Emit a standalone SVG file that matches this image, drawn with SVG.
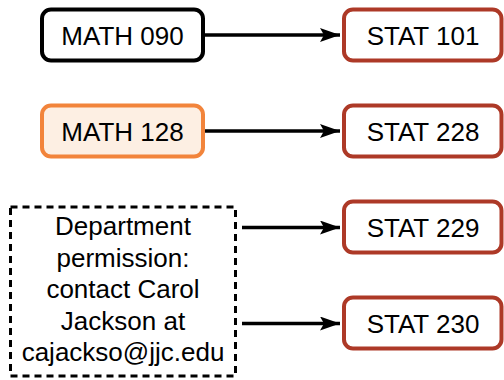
<svg xmlns="http://www.w3.org/2000/svg" width="504" height="380" viewBox="0 0 504 380">
<defs>
<style>
text{font-family:"Liberation Sans",Arial,Helvetica,sans-serif;font-size:26px;fill:#000;text-anchor:middle}
.src{fill:#fff;stroke:#000;stroke-width:4}
.orange{fill:#fdefe3;stroke:#f2843b;stroke-width:4}
.stat{fill:#fff;stroke:#ad3927;stroke-width:4}
.note{fill:#fff;stroke:#000;stroke-width:3;stroke-dasharray:7 5}
.edge{stroke:#000;stroke-width:3.5;fill:none}
</style>
<marker id="arr" markerUnits="userSpaceOnUse" markerWidth="22" markerHeight="16" refX="20" refY="7" orient="auto">
<path d="M20,7 L0,0 L4,7 L0,14 Z" fill="#000"/>
</marker>
</defs>
<g id="math090">
<rect class="src" x="42" y="9.5" width="161" height="51" rx="9"/>
<text x="122.5" y="45">MATH 090</text>
</g>
<g id="math128">
<rect class="orange" x="42" y="105.5" width="161" height="51" rx="9"/>
<text x="122.5" y="141">MATH 128</text>
</g>
<g id="permission">
<rect class="note" x="10.5" y="207" width="225" height="169"/>
<text x="123" y="235">Department</text>
<text x="123" y="266.5">permission:</text>
<text x="123" y="298">contact Carol</text>
<text x="123" y="329.5">Jackson at</text>
<text x="123" y="361">cajackso@jjc.edu</text>
</g>
<g id="stat101">
<rect class="stat" x="344" y="9.5" width="157.5" height="51" rx="9"/>
<text x="423" y="45">STAT 101</text>
</g>
<g id="stat228">
<rect class="stat" x="344" y="105.5" width="157.5" height="51" rx="9"/>
<text x="423" y="141">STAT 228</text>
</g>
<g id="stat229">
<rect class="stat" x="344" y="201.5" width="157.5" height="51" rx="9"/>
<text x="423" y="237">STAT 229</text>
</g>
<g id="stat230">
<rect class="stat" x="344" y="297.5" width="157.5" height="51" rx="9"/>
<text x="423" y="333">STAT 230</text>
</g>
<g id="connectors">
<path class="edge" d="M205,35 H340" marker-end="url(#arr)"/>
<path class="edge" d="M205,131 H340" marker-end="url(#arr)"/>
<path class="edge" d="M242,227.5 H340" marker-end="url(#arr)"/>
<path class="edge" d="M242,323.5 H340" marker-end="url(#arr)"/>
</g>
</svg>
